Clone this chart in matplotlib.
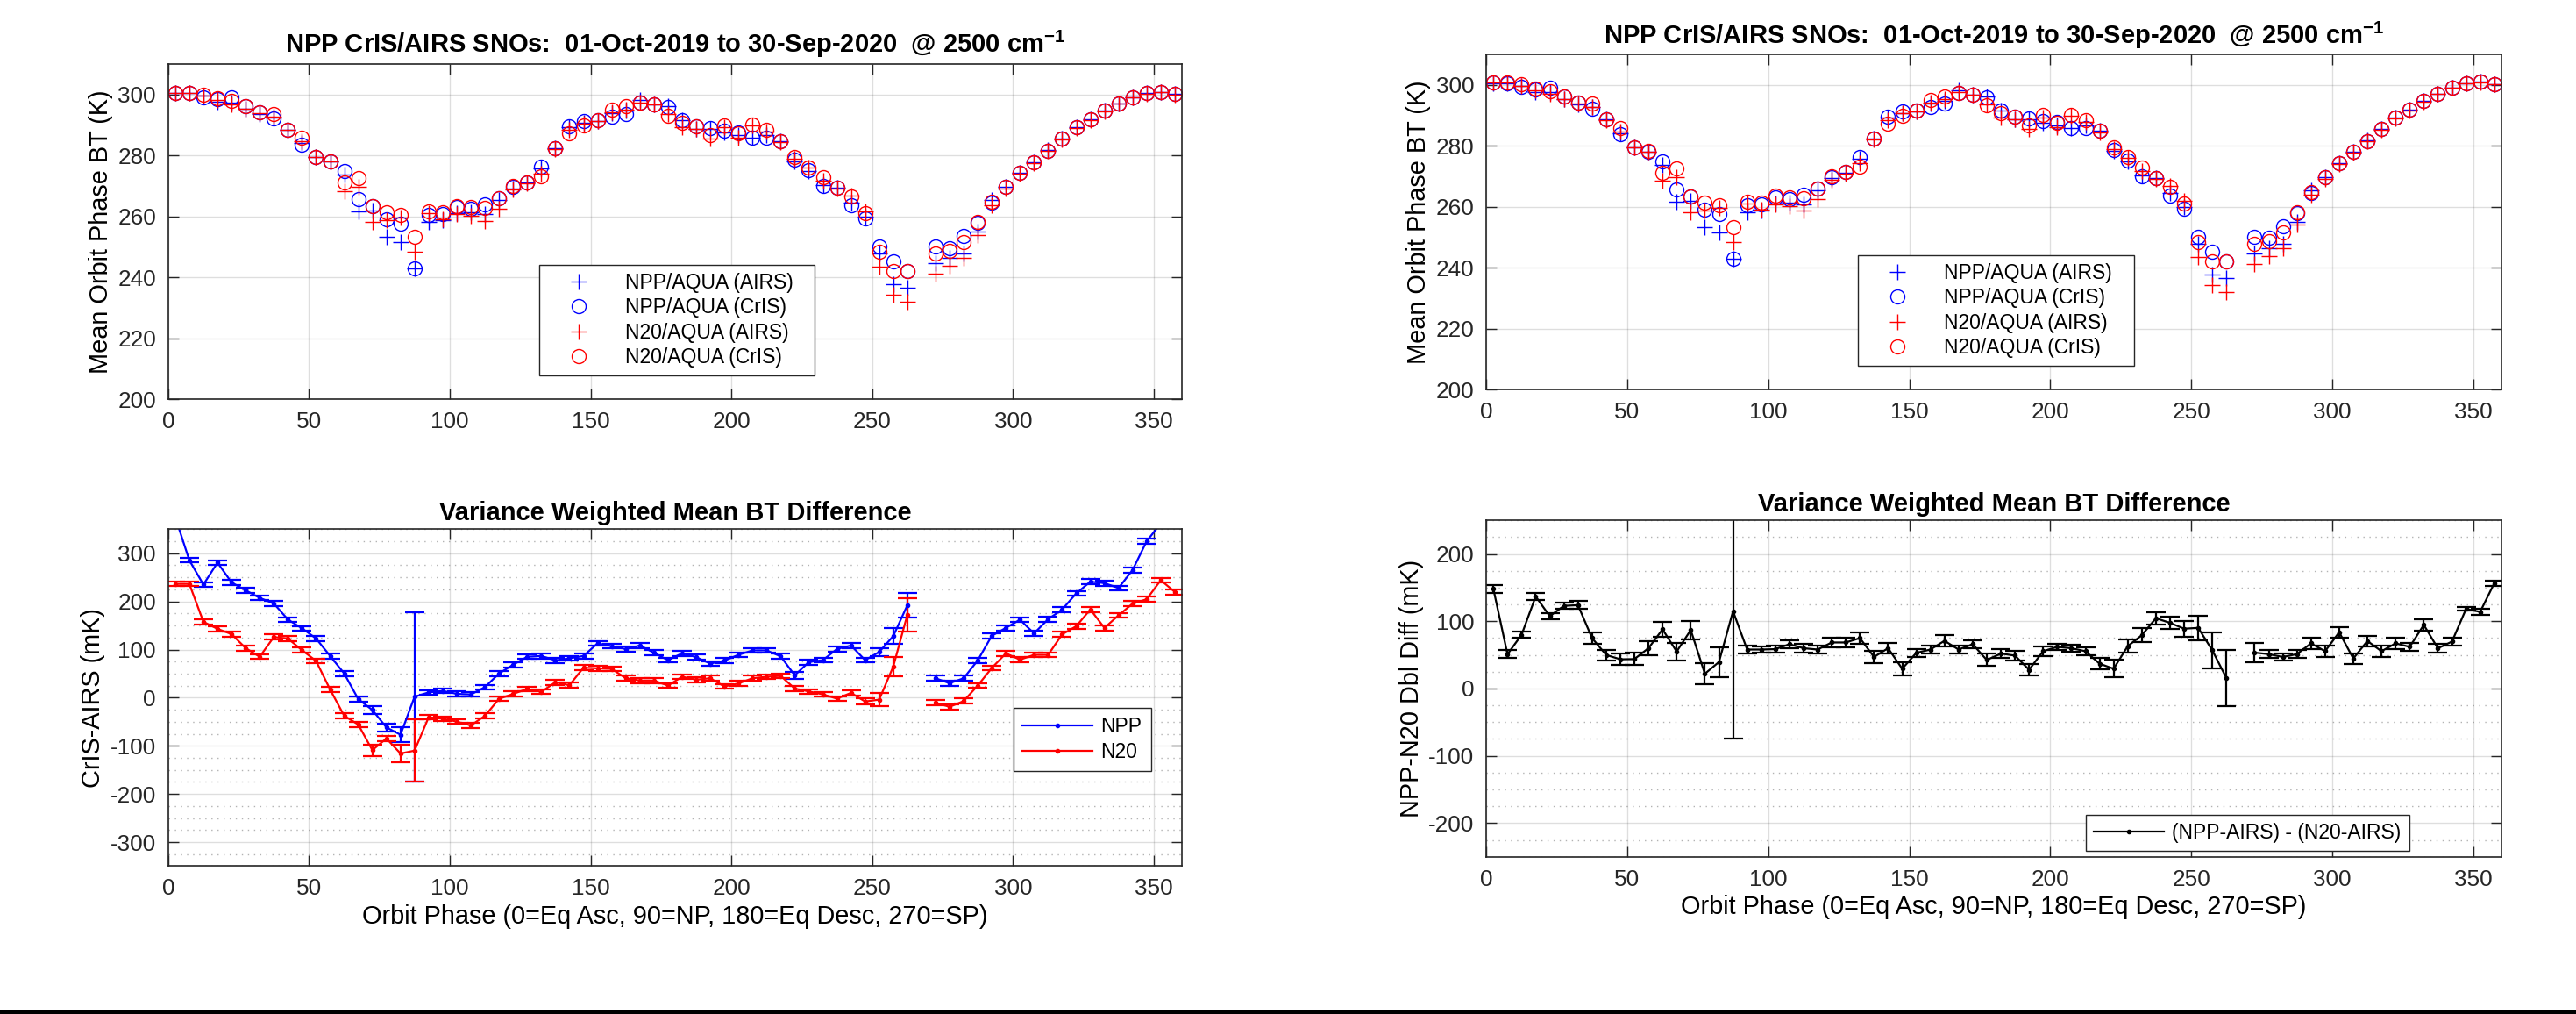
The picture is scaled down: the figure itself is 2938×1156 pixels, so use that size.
import numpy as np
import matplotlib
matplotlib.use("Agg")
import matplotlib.pyplot as plt
from matplotlib.lines import Line2D
from matplotlib.patches import Rectangle
from matplotlib.ticker import MultipleLocator

plt.rcParams['font.family'] = ['Liberation Sans', 'DejaVu Sans']
plt.rcParams['mathtext.fontset'] = 'custom'
plt.rcParams['mathtext.rm'] = 'Liberation Sans'
plt.rcParams['mathtext.bf'] = 'Liberation Sans:bold'
plt.rcParams['axes.unicode_minus'] = False

nan = np.nan

# orbit phase bin centres (5 deg bins)
phase = np.arange(2.5, 360, 5.0)

# mean orbit phase BT (K)
npp_airs = [300.6, 300.6, 299.6, 297.7, 297.5, 295.4, 293.6, 292.6, 288.6, 284.2,
            279.6, 278.1, 273.7, 261.7, 261.9, 253.2, 251.5, 243.0, 258.2, 258.7,
            261.1, 261.3, 260.8, 265.3, 269.3, 271.2, 275.8, 282.4, 289.3, 290.8,
            291.4, 294.0, 294.8, 298.3, 296.8, 296.2, 291.6, 288.7, 288.7, 287.6,
            286.8, 285.8, 286.6, 284.8, 278.2, 275.0, 270.3, 269.4, 264.5, 259.8,
            247.8, 237.7, 236.7, nan, 244.6, 246.3, 247.8, 255.0, 265.5, 269.6,
            274.4, 277.9, 281.8, 285.6, 289.4, 291.8, 294.7, 297.1, 299.0, 300.6,
            301.0, 300.2]
npp_cris = [300.7, 300.6, 299.2, 298.6, 299.1, 296.3, 294.2, 292.2, 288.6, 283.7,
            279.6, 278.1, 274.8, 265.6, 263.3, 259.1, 257.5, 243.0, 260.6, 260.8,
            263.1, 262.5, 264.0, 265.9, 269.8, 271.3, 276.4, 282.4, 289.6, 291.4,
            291.5, 292.8, 293.8, 297.4, 296.8, 295.9, 291.7, 289.6, 289.1, 288.2,
            287.7, 285.8, 285.8, 284.8, 278.6, 275.2, 269.9, 269.4, 263.7, 259.3,
            250.2, 245.2, 242.0, nan, 250.0, 249.7, 253.6, 257.8, 264.6, 269.6,
            274.4, 277.9, 281.6, 285.6, 289.4, 291.8, 294.7, 297.1, 299.0, 300.6,
            301.0, 300.2]
n20_airs = [300.7, 300.7, 299.7, 298.3, 296.9, 295.3, 293.9, 292.8, 288.4, 284.7,
            279.6, 278.1, 268.4, 269.8, 258.2, 258.7, 259.6, 248.5, 261.1, 259.0,
            260.8, 260.3, 258.6, 262.6, 268.8, 270.8, 274.2, 282.2, 288.4, 290.6,
            291.4, 294.2, 295.2, 297.5, 296.8, 293.6, 289.2, 288.8, 285.6, 289.3,
            286.0, 289.8, 287.8, 284.5, 279.0, 276.0, 271.8, 269.2, 266.8, 261.8,
            243.5, 234.3, 231.9, nan, 241.1, 243.9, 246.3, 254.0, 263.8, 269.2,
            274.0, 277.6, 281.5, 285.3, 289.0, 291.5, 294.4, 297.0, 299.0, 300.4,
            300.9, 300.1]
n20_cris = [300.7, 300.7, 300.1, 298.9, 297.9, 296.3, 294.2, 293.8, 288.6, 285.8,
            279.6, 278.2, 271.2, 272.7, 263.4, 261.4, 260.5, 253.2, 261.6, 261.4,
            263.5, 263.1, 262.8, 265.9, 270.0, 271.3, 273.1, 282.4, 287.2, 289.8,
            291.5, 295.0, 296.2, 297.4, 296.7, 293.2, 290.8, 289.6, 286.7, 290.0,
            287.4, 290.2, 288.4, 284.8, 279.5, 276.2, 272.8, 269.4, 266.5, 261.0,
            248.3, 242.0, 242.0, nan, 247.8, 248.8, 251.6, 258.1, 264.8, 269.6,
            274.3, 277.9, 281.6, 285.6, 289.4, 291.8, 294.7, 297.1, 299.0, 300.6,
            301.0, 300.2]

# variance weighted mean CrIS-AIRS (mK)
npp_diff = [375, 285.5, 235, 280.6, 239.4, 223, 207.3, 195.8, 162.4, 144.2,
            123, 86.7, 50.3, -3, -25.5, -61.8, -77, 2, 11, 14,
            8, 6.7, 22, 50.3, 68.5, 85, 86.7, 77.6, 81.8, 86.7,
            113, 107, 101, 108.5, 93.3, 78, 92.1, 84.2, 70.8, 76.9,
            89, 98.2, 98.2, 86, 46.5, 73.9, 78, 101, 108.5, 78,
            95, 128, 192, nan, 40.4, 30, 40.4, 77.5, 128.6, 145,
            162, 133.5, 163, 183.3, 216.7, 241, 238, 227.7, 265.3, 325,
            362, 377]
npp_err = [5, 5, 5, 5, 5, 5, 5, 5, 5, 5,
           5, 5, 5, 5, 8, 8, 15, 176, 5, 5,
           5, 5, 5, 5, 5, 5, 5, 5, 5, 5,
           5, 5, 5, 5, 5, 5, 5, 5, 5, 5,
           5, 5, 5, 5, 7, 5, 5, 5, 5, 5,
           8, 17, 25, nan, 5, 5, 5, 5, 5, 5,
           5, 5, 5, 5, 5, 5, 5, 5, 5, 5,
           5, 5]
n20_diff = [236.4, 236.4, 157.6, 143, 132, 103, 85, 126, 123, 98.8,
            76.4, 17, -37.6, -55.8, -109, -84.8, -116, -110, -40.6, -43.6,
            -49.7, -57.6, -37.6, -2.4, 7.9, 18.2, 12.1, 32, 26, 62.4,
            61, 59.9, 40.4, 35.6, 35.6, 25.2, 43.5, 37.4, 40.4, 23.4,
            29.5, 40.4, 43.5, 45.3, 19, 13, 6.9, -2, 10, -8,
            -4, 64.7, 172, nan, -10.5, -19, -7, 25.2, 61.7, 92.1,
            79, 89, 89, 131.6, 148.6, 183.3, 145, 171.1, 195.4, 204.6,
            244, 219.8]
n20_err = [5, 5, 5, 5, 5, 5, 5, 5, 5, 5,
           5, 5, 5, 5, 12, 6, 18, 65, 5, 5,
           5, 5, 5, 5, 5, 5, 5, 5, 5, 5,
           5, 5, 5, 5, 5, 5, 5, 5, 5, 5,
           5, 5, 5, 5, 5, 5, 5, 5, 5, 6,
           14, 20, 35, nan, 5, 5, 5, 5, 5, 5,
           5, 5, 5, 5, 5, 5, 5, 5, 5, 5,
           5, 5]

# double difference (NPP-AIRS) - (N20-AIRS) (mK)
dbl_diff = [148, 51, 80, 137, 107.6, 123, 124, 75, 50, 43.5,
            43.8, 60, 88, 55, 87, 22, 39.5, 115, 58, 58,
            58.6, 66, 60, 58, 68.5, 68.5, 75, 47, 60, 29.5,
            53, 58, 71, 58, 66, 42.5, 52, 49, 28, 55.5,
            62, 60, 55.5, 37, 29.5, 63, 79.4, 104.6, 97.6, 89,
            90.2, 56.8, 15.6, nan, 53.4, 51.2, 46.9, 51.2, 67.2, 55.5,
            83.7, 44.7, 70.7, 55.5, 67.2, 62, 94.6, 59.9, 69.8, 118.4,
            114, 156.6]
dbl_err = [6, 6, 5, 5, 5, 5, 6, 9, 8, 8,
           9, 11, 11, 13, 14, 16, 22, 189, 6, 5,
           5, 6, 6, 6, 7, 7, 8, 9, 8, 10,
           6, 6, 8, 6, 6, 9, 7, 7, 9, 7,
           5, 5, 6, 8, 13, 10, 10, 9, 9, 12,
           18, 27, 42, nan, 14, 6, 5, 6, 8, 8,
           8, 8, 8, 8, 8, 6, 8, 7, 6, 3,
           4, 4]

title_top = r'NPP CrIS/AIRS SNOs:  01-Oct-2019 to 30-Sep-2020  @ 2500 cm$^{\mathbf{-1}}$'
title_bot = 'Variance Weighted Mean BT Difference'
xlab = 'Orbit Phase (0=Eq Asc, 90=NP, 180=Eq Desc, 270=SP)'

FS_TICK = 18.8
FS_LAB = 20.8
FS_TITLE = 21
FS_LEG = 16.5
AX = '#262626'

fig = plt.figure(figsize=(29.38, 11.56), dpi=100)


def style(ax, minor_y=False):
    for s in ax.spines.values():
        s.set_color(AX)
        s.set_linewidth(1.2)
    ax.tick_params(which='major', direction='in', length=8.4, width=1.0,
                   top=True, right=True, colors=AX, labelsize=FS_TICK, pad=10)
    ax.tick_params(which='minor', length=0)
    ax.grid(True, which='major', color=AX, alpha=0.15, lw=1.0)
    if minor_y:
        ax.yaxis.set_minor_locator(MultipleLocator(25))
        ax.grid(True, which='minor', axis='y', color=AX, alpha=0.35, lw=1.0, ls=(0, (1, 4)))
    ax.set_axisbelow(True)
    ax.set_xlim(0, 360)
    ax.set_xticks(np.arange(0, 351, 50))


def title(ax, text, pad):
    ax.annotate(text, xy=(0.5, 1), xycoords='axes fraction', xytext=(0, pad),
                textcoords='offset points', ha='center', va='baseline',
                fontsize=FS_TITLE, fontweight='bold', color='black')


def legend_frame(leg):
    leg.get_frame().set_linewidth(1.0)
    leg.get_frame().set_edgecolor(AX)


def top_panel(rect, pad):
    ax = fig.add_axes(rect)
    style(ax)
    ax.plot(phase, npp_airs, '+', color='b', ms=13, mew=1.0, ls='none', label='NPP/AQUA (AIRS)')
    ax.plot(phase, npp_cris, 'o', color='b', mfc='none', ms=11.5, mew=1.0, ls='none', label='NPP/AQUA (CrIS)')
    ax.plot(phase, n20_airs, '+', color='r', ms=13, mew=1.0, ls='none', label='N20/AQUA (AIRS)')
    ax.plot(phase, n20_cris, 'o', color='r', mfc='none', ms=11.5, mew=1.0, ls='none', label='N20/AQUA (CrIS)')
    ax.set_ylim(200, 310)
    ax.set_yticks(np.arange(200, 301, 20))
    ax.set_ylabel('Mean Orbit Phase BT (K)', fontsize=FS_LAB)
    title(ax, title_top, pad)
    leg = ax.legend(loc='lower left', bbox_to_anchor=(0.366, 0.0707, 0.272, 0.36),
                    mode='expand', borderaxespad=0, fontsize=FS_LEG, fancybox=False,
                    framealpha=1, handlelength=3.1, handletextpad=0.77,
                    labelspacing=0.23, borderpad=0.4)
    legend_frame(leg)
    return ax


top_panel([0.0653, 0.6064, 0.3935, 0.3302], 9.6)
top_panel([0.5770, 0.6159, 0.3940, 0.3305], 8.4)

# bottom left: CrIS-AIRS per satellite
ax3 = fig.add_axes([0.0653, 0.1458, 0.3935, 0.3323])
style(ax3, minor_y=True)
ax3.errorbar(phase, npp_diff, yerr=npp_err, color='b', lw=1.6, marker='.', ms=6,
             capsize=8, capthick=1.6, elinewidth=1.6)
ax3.errorbar(phase, n20_diff, yerr=n20_err, color='r', lw=1.6, marker='.', ms=6,
             capsize=8, capthick=1.6, elinewidth=1.6)
ax3.set_ylim(-350, 350)
ax3.set_yticks(np.arange(-300, 301, 100))
ax3.set_ylabel('CrIS-AIRS (mK)', fontsize=FS_LAB)
ax3.set_xlabel(xlab, fontsize=FS_LAB)
title(ax3, title_bot, 7.2)
h3 = [Line2D([], [], color='b', lw=1.6, marker='.', ms=6),
      Line2D([], [], color='r', lw=1.6, marker='.', ms=6)]
leg3 = ax3.legend(h3, ['NPP', 'N20'], loc='lower right', bbox_to_anchor=(0.9695, 0.2816),
                  borderaxespad=0, fontsize=FS_LEG, fancybox=False, framealpha=1,
                  handlelength=3.5, handletextpad=0.4, labelspacing=0.25, borderpad=0.45)
legend_frame(leg3)

# bottom right: double difference
ax4 = fig.add_axes([0.5770, 0.1551, 0.3940, 0.3317])
style(ax4, minor_y=True)
ax4.errorbar(phase, dbl_diff, yerr=dbl_err, color='k', lw=1.6, marker='.', ms=6,
             capsize=8, capthick=1.6, elinewidth=1.6)
ax4.set_ylim(-250, 250)
ax4.set_yticks(np.arange(-200, 201, 100))
ax4.set_ylabel('NPP-N20 Dbl Diff (mK)', fontsize=FS_LAB)
ax4.set_xlabel(xlab, fontsize=FS_LAB)
title(ax4, title_bot, 7.2)
h4 = [Line2D([], [], color='k', lw=1.6, marker='.', ms=6)]
leg4 = ax4.legend(h4, ['(NPP-AIRS) - (N20-AIRS)'], loc='lower center',
                  bbox_to_anchor=(0.75, 0.0175), borderaxespad=0, fontsize=FS_LEG,
                  fancybox=False, framealpha=1,
                  handlelength=3.5, handletextpad=0.4, borderpad=0.4)
legend_frame(leg4)

# black strip along the bottom edge
fig.add_artist(Rectangle((0, 0), 1, 4.5 / 1156, transform=fig.transFigure,
                         color='black', lw=0))

fig.savefig('out.png', dpi=100)
